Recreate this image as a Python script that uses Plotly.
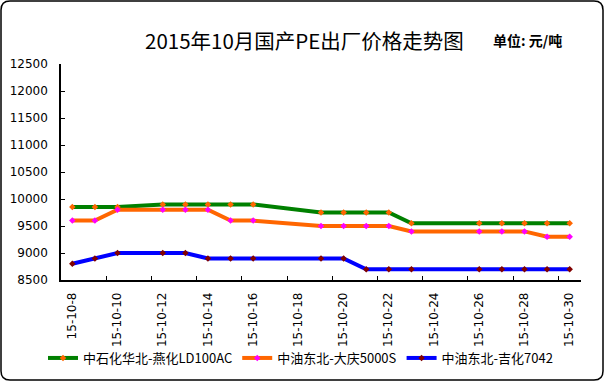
import plotly.graph_objects as go

dates = ["2015-10-08", "2015-10-09", "2015-10-10", "2015-10-12", "2015-10-13", "2015-10-14",
         "2015-10-15", "2015-10-16", "2015-10-19", "2015-10-20", "2015-10-21", "2015-10-22",
         "2015-10-23", "2015-10-26", "2015-10-27", "2015-10-28", "2015-10-29", "2015-10-30"]
yanhua = [9850, 9850, 9850, 9900, 9900, 9900, 9900, 9900, 9750, 9750, 9750, 9750,
          9550, 9550, 9550, 9550, 9550, 9550]
daqing = [9600, 9600, 9800, 9800, 9800, 9800, 9600, 9600, 9500, 9500, 9500, 9500,
          9400, 9400, 9400, 9400, 9300, 9300]
jihua = [8800, 8900, 9000, 9000, 9000, 8900, 8900, 8900, 8900, 8900, 8700, 8700,
         8700, 8700, 8700, 8700, 8700, 8700]
names = ["中石化华北-燕化LD100AC", "中油东北-大庆5000S", "中油东北-吉化7042"]
tick_pos = ["2015-10-07 12:00", "2015-10-09 12:00", "2015-10-11 12:00", "2015-10-13 12:00",
            "2015-10-15 12:00", "2015-10-17 12:00", "2015-10-19 12:00", "2015-10-21 12:00",
            "2015-10-23 12:00", "2015-10-25 12:00", "2015-10-27 12:00", "2015-10-29 12:00"]
tick_text = ["15-10-8", "15-10-10", "15-10-12", "15-10-14", "15-10-16", "15-10-18",
             "15-10-20", "15-10-22", "15-10-24", "15-10-26", "15-10-28", "15-10-30"]

W, H = 605, 382
L, R, T, B = 61, 24, 64, 102
pw, ph = W - L - R, H - T - B

fig = go.Figure()
series = [(yanhua, "#008000", "#FF6600"), (daqing, "#FF6600", "#FF00FF"), (jihua, "#0000FF", "#800000")]
for (vals, lc, mc), nm in zip(series, names):
    fig.add_trace(go.Scatter(x=dates, y=vals, name=nm, mode="lines+markers",
                             line=dict(color=lc, width=4),
                             marker=dict(color=mc, size=5, symbol="diamond")))

def px(x):
    return (x - L) / pw
def py(y):
    return (H - B - y) / ph

x0, y0, x1, y1, r = 1, 1, 603, 380, 9
path = (f"M {px(x0+r)},{py(y0)} L {px(x1-r)},{py(y0)} Q {px(x1)},{py(y0)} {px(x1)},{py(y0+r)} "
        f"L {px(x1)},{py(y1-r)} Q {px(x1)},{py(y1)} {px(x1-r)},{py(y1)} "
        f"L {px(x0+r)},{py(y1)} Q {px(x0)},{py(y1)} {px(x0)},{py(y1-r)} "
        f"L {px(x0)},{py(y0+r)} Q {px(x0)},{py(y0)} {px(x0+r)},{py(y0)} Z")
fig.add_shape(type="path", path=path, xref="paper", yref="paper",
              line=dict(color="black", width=1.5), layer="below")

fig.add_annotation(text="2015年10月国产PE出厂价格走势图", xref="paper", yref="paper",
                   x=px(304), y=py(40), showarrow=False, xanchor="center", yanchor="middle",
                   font=dict(family="Noto Sans CJK SC", size=20.5, color="black"))
fig.add_annotation(text="<b>单位: 元/吨</b>", xref="paper", yref="paper",
                   x=px(527), y=py(40), showarrow=False, xanchor="center", yanchor="middle",
                   font=dict(family="Noto Sans CJK SC", size=14, color="black"))

fig.update_layout(
    template="none",
    width=W, height=H, margin=dict(l=L, r=R, t=T, b=B, autoexpand=False),
    paper_bgcolor="white", plot_bgcolor="white",
    showlegend=True,
    legend=dict(orientation="h", x=px(43), y=py(358), xanchor="left", yanchor="middle",
                font=dict(family="Noto Sans CJK SC", size=13, color="black"),
                bgcolor="rgba(0,0,0,0)"),
    xaxis=dict(type="date", range=["2015-10-07 12:00", "2015-10-30 12:00"],
               tickmode="array", tickvals=tick_pos, ticktext=tick_text,
               tickangle=-90, ticks="inside", ticklen=4, tickcolor="black",
               ticklabelshift=11, ticklabelstandoff=6, automargin=False,
               showline=True, linecolor="black", linewidth=1.5, showgrid=False, zeroline=False,
               tickfont=dict(family="DejaVu Sans", size=12, color="black")),
    yaxis=dict(range=[8500, 12500], dtick=500, tick0=8500, tickformat="d",
               ticks="inside", ticklen=4, automargin=False,
               tickcolor="black", showline=True, linecolor="black", linewidth=1.5,
               showgrid=False, zeroline=False, ticklabelstandoff=9,
               tickfont=dict(family="DejaVu Sans", size=12, color="black")),
)

fig.write_html("out.html", config={"displayModeBar": False},
               post_script="document.body.style.margin='0';")
